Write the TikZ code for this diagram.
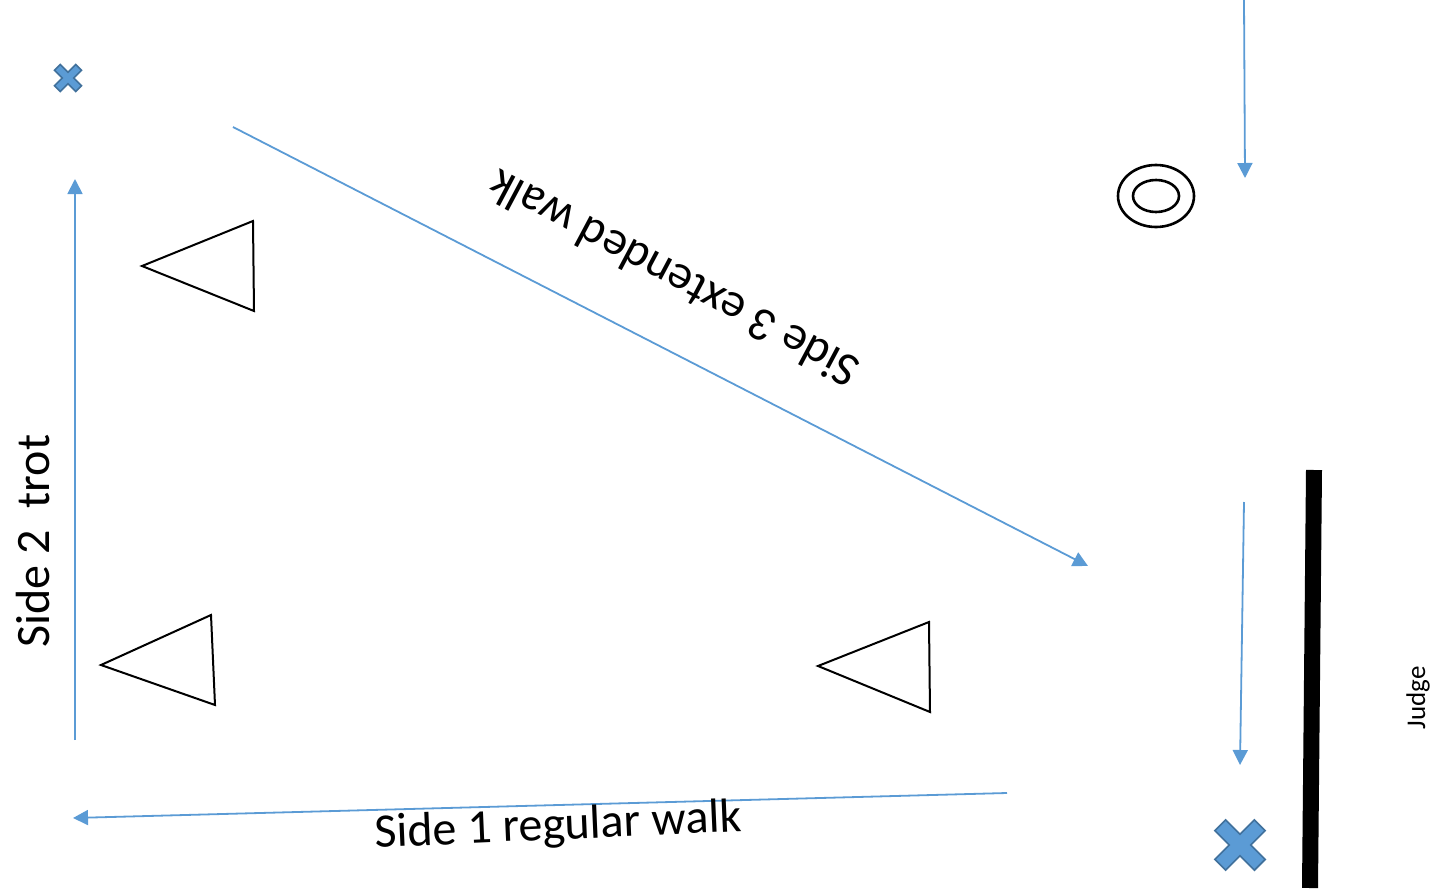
\documentclass[tikz,border=0pt]{standalone}
\usepackage{fontspec}
\setmainfont{Carlito}
\usetikzlibrary{arrows.meta}
\definecolor{PathBlue}{RGB}{91,155,213}
\definecolor{PathEdge}{RGB}{65,113,156}
\tikzset{
	xmark/.pic={
		\draw[PathEdge, fill=PathBlue, line width=1.6pt, line join=miter, rotate=45]
			(-.27,1) -- (.27,1) -- (.27,.27) -- (1,.27) -- (1,-.27) -- (.27,-.27)
			-- (.27,-1) -- (-.27,-1) -- (-.27,-.27) -- (-1,-.27) -- (-1,.27)
			-- (-.27,.27) -- cycle;}}
\begin{document}
\begin{tikzpicture}[x=1pt, y=-1pt,
	fl/.style={-{Triangle[length=15pt, width=15pt]}, line width=1.8pt, PathBlue},
	cone/.style={draw=black, line width=2pt, line join=miter},
	lbl/.style={font=\fontsize{48}{50}\selectfont, inner sep=0pt}]
	\useasboundingbox (0,0) rectangle (1433,891);
	% arena corners
	\coordinate (s3a) at (233,127);
	\coordinate (s3b) at (1088,566);
	\coordinate (s1a) at (1007,793);
	\coordinate (s1b) at (73,818);
	\coordinate (s2a) at (75,740);
	\coordinate (s2b) at (75,179);
	\coordinate (ina) at (1244,0);
	\coordinate (inb) at (1245,178);
	\coordinate (outa) at (1244,502);
	\coordinate (outb) at (1240,765);
	% sides
	\draw[fl] (s3a) -- (s3b);
	\draw[fl] (s1a) -- (s1b);
	\draw[fl] (s2a) -- (s2b);
	\draw[fl] (ina) -- (inb);
	\draw[fl] (outa) -- (outb);
	\node[lbl, rotate=152] (side3) at (673,279) {Side 3 extended walk};
	\node[lbl, rotate=2.5] (side1) at (558,827) {Side 1 regular walk};
	\node[lbl, rotate=90] (side2) at (33,541) {Side 2~~trot};
	% cones
	\draw[cone] (142,266) -- (253,221) -- (254,311) -- cycle;
	\draw[cone] (101,665) -- (211,615) -- (215,705) -- cycle;
	\draw[cone] (818,666) -- (929,622) -- (930,712) -- cycle;
	% target
	\draw[line width=2.6pt] (1156,196) ellipse [x radius=38, y radius=31];
	\draw[line width=2.6pt] (1156,196) ellipse [x radius=23, y radius=16];
	% judge
	\draw[line width=16pt] (1314,470) -- (1310,888);
	\node[font=\fontsize{27}{28}\selectfont, rotate=90, inner sep=0pt] (judge) at (1418,698) {Judge};
	% start and finish
	\pic[scale=15] at (68,78) {xmark};
	\pic[scale=28] at (1240,845) {xmark};
\end{tikzpicture}
\end{document}
